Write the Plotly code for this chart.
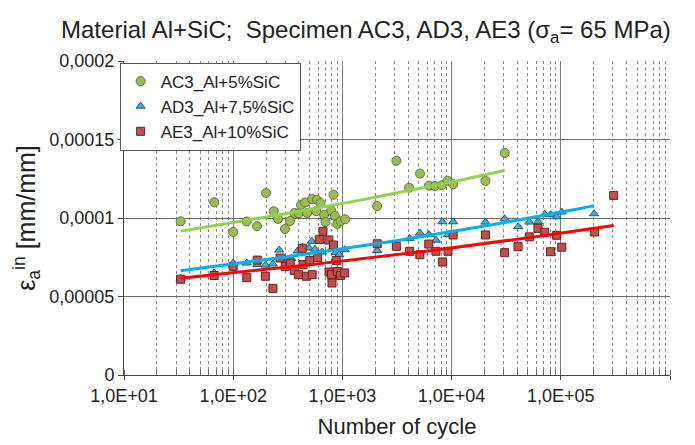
import numpy as np
import plotly.graph_objects as go

# ---------------- data ----------------
ac3_n = [33, 67, 100, 133, 165, 200, 235, 257, 298, 331, 364, 398, 418, 455, 475, 527, 585, 630,
         577, 680, 700, 791, 829, 855, 898, 961, 1057, 2080, 3120, 4075, 5140, 6210, 7050, 8110,
         9200, 10340, 20420, 30600]
ac3_eps = [9.79, 11.0, 9.11, 9.78, 9.48, 11.59, 10.43, 9.94, 9.30, 9.81, 10.32, 10.30, 10.83, 10.99,
           10.32, 11.21, 11.16, 10.95, 10.43, 10.20, 9.74, 10.49, 11.48, 10.13, 9.62, 9.79, 9.92,
           10.76, 13.65, 11.93, 12.83, 12.06, 12.04, 12.09, 12.38, 12.15, 12.36, 14.14]

ad3_n = [33, 67, 100, 133, 166, 198, 231, 264, 300, 340, 389, 429, 495, 524, 561, 650, 743, 820, 873,
         935, 1050, 2084, 4130, 5140, 6210, 7190, 8220, 9270, 10340, 20420, 30600, 40800, 51500,
         61800, 71200, 80200, 91900, 102000, 202000]
ad3_eps = [6.15, 6.50, 7.13, 7.13, 7.03, 7.00, 7.07, 7.96, 7.39, 7.42, 7.90, 8.14, 8.09, 8.52, 8.02,
           7.83, 8.50, 8.13, 7.80, 7.66, 7.98, 7.93, 8.69, 9.04, 8.94, 8.59, 9.76, 8.94, 9.76, 9.74,
           9.95, 9.45, 9.74, 9.77, 10.24, 10.21, 10.08, 10.38, 10.27]

ae3_n = [33, 67, 100, 133, 166, 197, 231, 269, 300, 333, 363, 396, 429, 436, 468, 502, 529, 593, 614,
         664, 751, 754, 794, 803, 829, 879, 898, 961, 1050, 2084, 3120, 4130, 5120, 6180, 7190, 8280,
         9270, 10340, 20420, 30600, 40600, 51500, 61800, 71200, 80500, 91600, 102000, 204000, 305000]
ae3_eps = [6.10, 6.34, 6.92, 6.20, 7.32, 6.29, 5.52, 7.45, 6.92, 7.13, 6.66, 6.39, 8.07, 7.03, 6.29,
           7.29, 6.39, 7.47, 8.62, 9.15, 8.60, 6.56, 6.39, 5.86, 8.28, 7.29, 6.60, 6.34, 6.50, 8.36,
           8.20, 7.88, 7.66, 8.34, 7.88, 7.20, 7.88, 8.92, 8.92, 7.79, 8.17, 8.80, 9.34, 9.09, 7.85,
           8.90, 8.14, 9.11, 11.44]

EPS_UNIT = 1e-5
series_names = ["AC3_Al+5%SiC", "AD3_Al+7,5%SiC", "AE3_Al+10%SiC"]

x_tickvals = [1e1, 1e2, 1e3, 1e4, 1e5, 1e6]
x_ticktext = ["1,0E+01", "1,0E+02", "1,0E+03", "1,0E+04", "1,0E+05", "1,0E+06"]
y_tickvals = [0, 0.00005, 0.0001, 0.00015, 0.0002]
y_ticktext = ["0", "0,00005", "0,0001", "0,00015", "0,0002"]

# ---------------- styles ----------------
marker_styles = [
    dict(symbol="circle", size=9, color="#9BBB59", line=dict(color="#5F7A30", width=1)),
    dict(symbol="triangle-up", size=8, color="#4BACC6", line=dict(color="#1E5C72", width=1)),
    dict(symbol="square", size=8, color="#C0504D", line=dict(color="#6E1E1C", width=1)),
]
trend_colors = ["#92D050", "#00B0F0", "#FF0000"]

FONT = "Liberation Sans, Arial, sans-serif"

fig = go.Figure()
datasets = [(ac3_n, ac3_eps), (ad3_n, ad3_eps), (ae3_n, ae3_eps)]

for i, (n, e) in enumerate(datasets):
    y = [v * EPS_UNIT for v in e]
    fig.add_trace(go.Scatter(
        x=n, y=y, mode="markers", name=series_names[i], marker=marker_styles[i],
        legendgroup=f"g{i}", cliponaxis=False,
    ))

# power-law trend lines fitted to each series (as in the original spreadsheet)
for i, (n, e) in enumerate(datasets):
    y = np.array(e) * EPS_UNIT
    x = np.array(n, dtype=float)
    b, lna = np.polyfit(np.log(x), np.log(y), 1)
    xs = np.logspace(np.log10(x.min()), np.log10(x.max()), 60)
    ys = np.exp(lna) * xs ** b
    fig.add_trace(go.Scatter(
        x=xs, y=ys, mode="lines", line=dict(color=trend_colors[i], width=3),
        showlegend=False, hoverinfo="skip",
    ))

fig.update_layout(
    width=695, height=445,
    margin=dict(l=116, r=33, t=53, b=78),
    paper_bgcolor="white", plot_bgcolor="white",
    font=dict(family=FONT, size=17, color="#222"),
    title=dict(
        text="Material Al+SiC;\u00a0 Specimen AC3, AD3, AE3 (σ<sub>a</sub>= 65 MPa)",
        x=0.515, xanchor="center", y=0.952, yanchor="middle",
        font=dict(family=FONT, size=24, color="#222"),
    ),
    showlegend=True,
    legend=dict(
        x=-0.008, y=0.995, xanchor="left", yanchor="top",
        bgcolor="white", bordercolor="#555", borderwidth=1,
        font=dict(family=FONT, size=17, color="#222"),
        tracegroupgap=17, traceorder="normal",
    ),
)

fig.update_xaxes(
    type="log", range=[1, 6],
    tickvals=x_tickvals, ticktext=x_ticktext,
    tickfont=dict(family=FONT, size=18, color="#222"),
    showline=True, linecolor="#444", linewidth=1,
    ticks="outside", ticklen=4, tickcolor="#444",
    showgrid=True, gridcolor="#7a7a7a", gridwidth=1,
    minor=dict(dtick="D1", showgrid=True, gridcolor="#888", griddash="dot", gridwidth=1,
               ticks="inside", ticklen=5, tickcolor="#666"),
    title=dict(text="Number of cycle", font=dict(family=FONT, size=22, color="#222"), standoff=14),
    zeroline=False,
)
fig.update_yaxes(
    range=[0, 0.0002],
    tickvals=y_tickvals, ticktext=y_ticktext,
    tickfont=dict(family=FONT, size=18, color="#222"),
    showline=True, linecolor="#444", linewidth=1,
    ticks="outside", ticklen=5, tickcolor="#444",
    showgrid=True, gridcolor="#6a6a6a", gridwidth=1,
    title=dict(text="ε<sub>a</sub><sup>in</sup> [mm/mm]", font=dict(family=FONT, size=25, color="#222"),
               standoff=6),
    zeroline=False,
)

fig.write_html("out.html")
